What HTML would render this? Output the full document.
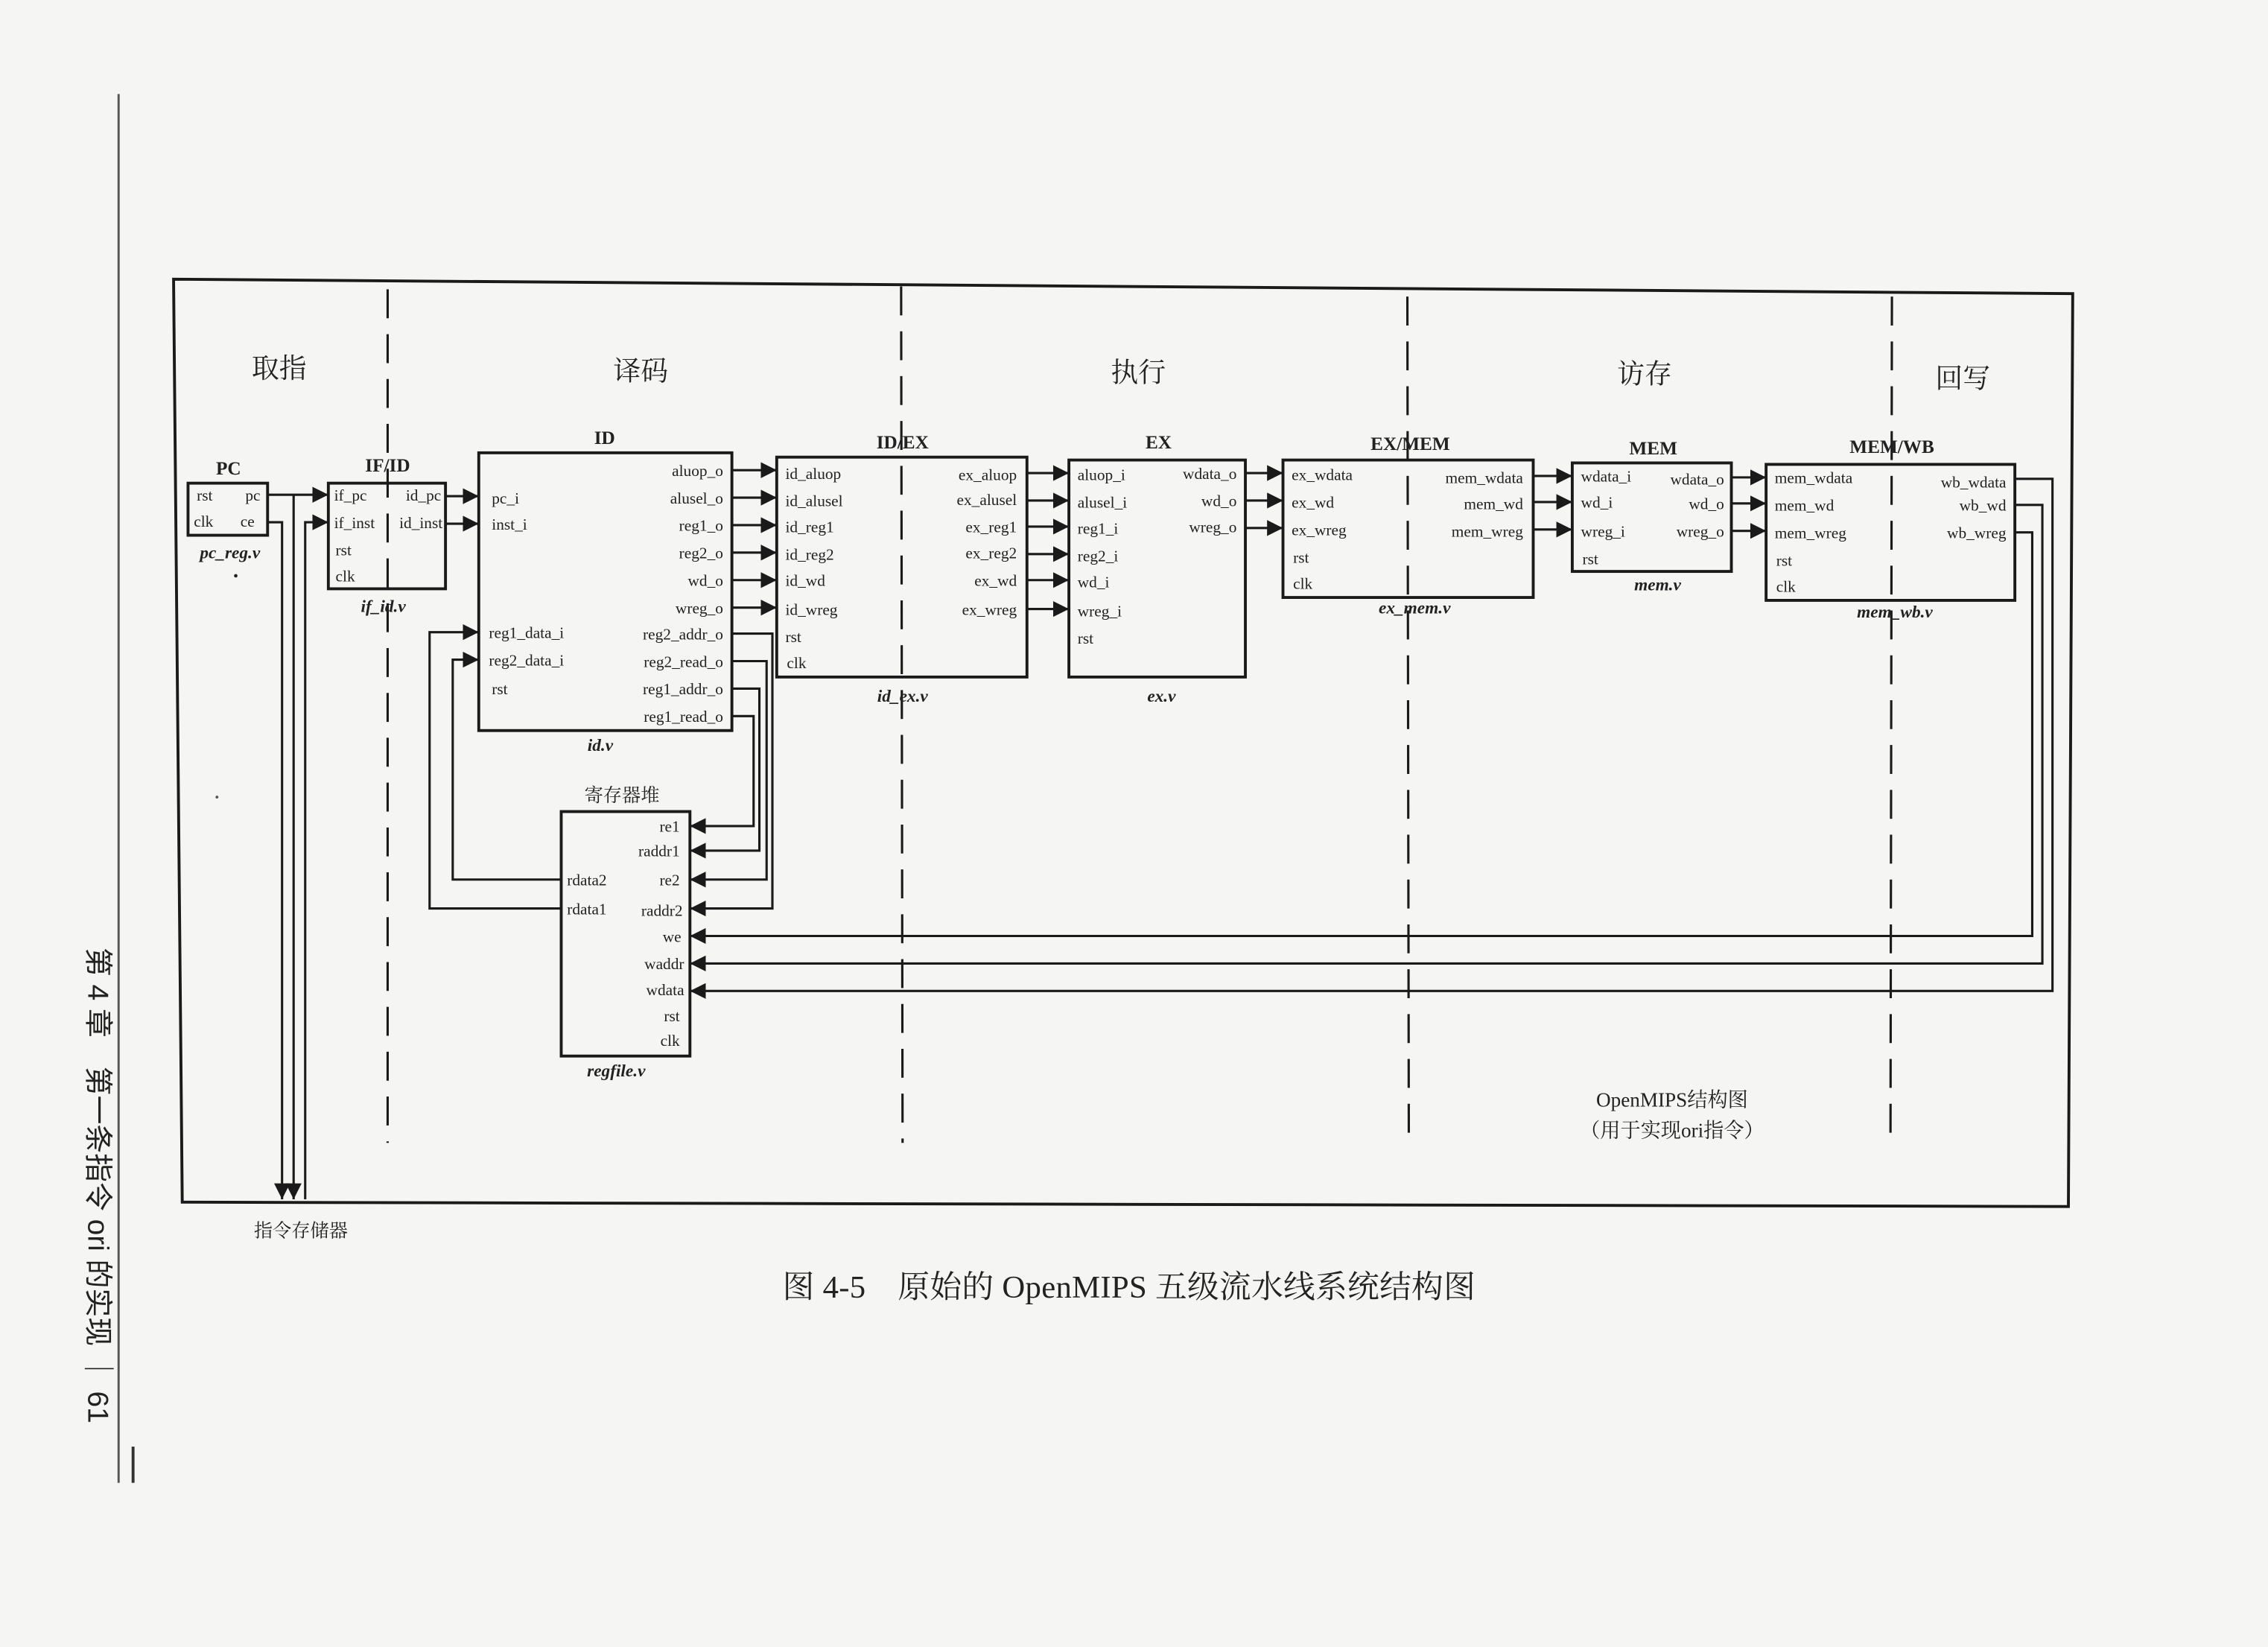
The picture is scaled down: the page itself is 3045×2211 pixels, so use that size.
<!DOCTYPE html>
<html><head><meta charset="utf-8"><style>
html,body{margin:0;padding:0;background:#f5f5f3;}
svg{display:block;}
text{font-family:"Liberation Serif","Noto Serif CJK SC",serif;fill:#222;}
.p{font-size:11px;}
.r{text-anchor:end;}
.t{font-size:13px;font-weight:bold;text-anchor:middle;}
.f{font-size:12px;font-weight:bold;font-style:italic;text-anchor:middle;}
.s{font-size:19px;text-anchor:middle;}
.b{fill:none;stroke:#1a1a1a;stroke-width:2;}
.w{fill:none;stroke:#1a1a1a;stroke-width:1.6;}
.d{fill:none;stroke:#1a1a1a;stroke-width:1.6;stroke-dasharray:20 11;}
</style></head><body>
<svg width="3045" height="2211" viewBox="0 0 1568 1138.5" preserveAspectRatio="none" xmlns="http://www.w3.org/2000/svg">
<defs><marker id="a" markerWidth="11" markerHeight="11" refX="11" refY="5.5" orient="auto" markerUnits="userSpaceOnUse"><path d="M0,0L11,5.5L0,11z" fill="#1a1a1a"/></marker></defs>
<rect width="1568" height="1138.5" fill="#f5f5f3"/>
<line x1="82" y1="65" x2="82" y2="1025" stroke="#555" stroke-width="1.5"/>
<line x1="92" y1="1000" x2="92" y2="1025" stroke="#333" stroke-width="2"/>
<text transform="translate(61,655) rotate(90)" style="font-size:20px;font-family:'Liberation Sans','Noto Sans CJK SC',sans-serif;">第 4 章　第一条指令 ori 的实现 ｜ 61</text>
<polygon points="120,193 1433,203 1430,834 126,831" class="b"/>
<line x1="268" y1="200" x2="268" y2="790" class="d"/>
<line x1="623" y1="198" x2="624" y2="790" class="d"/>
<line x1="973" y1="205" x2="974" y2="790" class="d"/>
<line x1="1308" y1="205" x2="1307" y2="790" class="d"/>
<text x="193" y="261" class="s">取指</text>
<text x="443" y="263" class="s">译码</text>
<text x="787" y="264" class="s">执行</text>
<text x="1137" y="265" class="s">访存</text>
<text x="1357" y="268" class="s">回写</text>
<text x="158" y="328" class="t">PC</text>
<rect x="130" y="334" width="55" height="36" class="b"/>
<text x="136" y="346" class="p">rst</text><text x="180" y="346" class="p r">pc</text>
<text x="134" y="364" class="p">clk</text><text x="176" y="364" class="p r">ce</text>
<text x="159" y="386" class="f">pc_reg.v</text>
<circle cx="163" cy="398" r="1.2" fill="#222"/>
<text x="268" y="326" class="t">IF/ID</text>
<rect x="227" y="334" width="81" height="73" class="b"/>
<text x="231" y="346" class="p">if_pc</text><text x="305" y="346" class="p r">id_pc</text>
<text x="231" y="365" class="p">if_inst</text><text x="306" y="365" class="p r">id_inst</text>
<text x="232" y="384" class="p">rst</text>
<text x="232" y="402" class="p">clk</text>
<text x="265" y="423" class="f">if_id.v</text>
<line x1="185" y1="342" x2="227" y2="342" class="w" marker-end="url(#a)"/>
<polyline points="185,361 195,361 195,829" class="w" marker-end="url(#a)"/>
<polyline points="203,342 203,829" class="w" marker-end="url(#a)"/>
<polyline points="211,829 211,361 227,361" class="w" marker-end="url(#a)"/>
<text x="208" y="855" style="font-size:13px;text-anchor:middle;">指令存储器</text>
<text x="418" y="307" class="t">ID</text>
<rect x="331" y="313" width="175" height="192" class="b"/>
<text x="340" y="348" class="p">pc_i</text>
<text x="340" y="366" class="p">inst_i</text>
<text x="338" y="441" class="p">reg1_data_i</text>
<text x="338" y="460" class="p">reg2_data_i</text>
<text x="340" y="480" class="p">rst</text>
<text x="500" y="329" class="p r">aluop_o</text>
<text x="500" y="348" class="p r">alusel_o</text>
<text x="500" y="367" class="p r">reg1_o</text>
<text x="500" y="386" class="p r">reg2_o</text>
<text x="500" y="405" class="p r">wd_o</text>
<text x="500" y="424" class="p r">wreg_o</text>
<text x="500" y="442" class="p r">reg2_addr_o</text>
<text x="500" y="461" class="p r">reg2_read_o</text>
<text x="500" y="480" class="p r">reg1_addr_o</text>
<text x="500" y="499" class="p r">reg1_read_o</text>
<text x="415" y="519" class="f">id.v</text>
<line x1="308" y1="343" x2="331" y2="343" class="w" marker-end="url(#a)"/>
<line x1="308" y1="362" x2="331" y2="362" class="w" marker-end="url(#a)"/>
<line x1="506" y1="325" x2="537" y2="325" class="w" marker-end="url(#a)"/>
<line x1="506" y1="344" x2="537" y2="344" class="w" marker-end="url(#a)"/>
<line x1="506" y1="363" x2="537" y2="363" class="w" marker-end="url(#a)"/>
<line x1="506" y1="382" x2="537" y2="382" class="w" marker-end="url(#a)"/>
<line x1="506" y1="401" x2="537" y2="401" class="w" marker-end="url(#a)"/>
<line x1="506" y1="420" x2="537" y2="420" class="w" marker-end="url(#a)"/>
<text x="624" y="310" class="t">ID/EX</text>
<rect x="537" y="316" width="173" height="152" class="b"/>
<text x="543" y="331" class="p">id_aluop</text>
<text x="543" y="350" class="p">id_alusel</text>
<text x="543" y="368" class="p">id_reg1</text>
<text x="543" y="387" class="p">id_reg2</text>
<text x="543" y="405" class="p">id_wd</text>
<text x="543" y="425" class="p">id_wreg</text>
<text x="543" y="444" class="p">rst</text>
<text x="544" y="462" class="p">clk</text>
<text x="703" y="332" class="p r">ex_aluop</text>
<text x="703" y="349" class="p r">ex_alusel</text>
<text x="703" y="368" class="p r">ex_reg1</text>
<text x="703" y="386" class="p r">ex_reg2</text>
<text x="703" y="405" class="p r">ex_wd</text>
<text x="703" y="425" class="p r">ex_wreg</text>
<text x="624" y="485" class="f">id_ex.v</text>
<line x1="710" y1="327" x2="739" y2="327" class="w" marker-end="url(#a)"/>
<line x1="710" y1="346" x2="739" y2="346" class="w" marker-end="url(#a)"/>
<line x1="710" y1="364" x2="739" y2="364" class="w" marker-end="url(#a)"/>
<line x1="710" y1="383" x2="739" y2="383" class="w" marker-end="url(#a)"/>
<line x1="710" y1="401" x2="739" y2="401" class="w" marker-end="url(#a)"/>
<line x1="710" y1="421" x2="739" y2="421" class="w" marker-end="url(#a)"/>
<text x="801" y="310" class="t">EX</text>
<rect x="739" y="318" width="122" height="150" class="b"/>
<text x="745" y="332" class="p">aluop_i</text>
<text x="745" y="351" class="p">alusel_i</text>
<text x="745" y="369" class="p">reg1_i</text>
<text x="745" y="388" class="p">reg2_i</text>
<text x="745" y="406" class="p">wd_i</text>
<text x="745" y="426" class="p">wreg_i</text>
<text x="745" y="445" class="p">rst</text>
<text x="855" y="331" class="p r">wdata_o</text>
<text x="855" y="350" class="p r">wd_o</text>
<text x="855" y="368" class="p r">wreg_o</text>
<text x="803" y="485" class="f">ex.v</text>
<line x1="861" y1="327" x2="887" y2="327" class="w" marker-end="url(#a)"/>
<line x1="861" y1="346" x2="887" y2="346" class="w" marker-end="url(#a)"/>
<line x1="861" y1="365" x2="887" y2="365" class="w" marker-end="url(#a)"/>
<text x="975" y="311" class="t">EX/MEM</text>
<rect x="887" y="318" width="173" height="95" class="b"/>
<text x="893" y="332" class="p">ex_wdata</text>
<text x="893" y="351" class="p">ex_wd</text>
<text x="893" y="370" class="p">ex_wreg</text>
<text x="894" y="389" class="p">rst</text>
<text x="894" y="407" class="p">clk</text>
<text x="1053" y="334" class="p r">mem_wdata</text>
<text x="1053" y="352" class="p r">mem_wd</text>
<text x="1053" y="371" class="p r">mem_wreg</text>
<text x="978" y="424" class="f">ex_mem.v</text>
<line x1="1060" y1="329" x2="1087" y2="329" class="w" marker-end="url(#a)"/>
<line x1="1060" y1="347" x2="1087" y2="347" class="w" marker-end="url(#a)"/>
<line x1="1060" y1="366" x2="1087" y2="366" class="w" marker-end="url(#a)"/>
<text x="1143" y="314" class="t">MEM</text>
<rect x="1087" y="320" width="110" height="75" class="b"/>
<text x="1093" y="333" class="p">wdata_i</text>
<text x="1093" y="351" class="p">wd_i</text>
<text x="1093" y="371" class="p">wreg_i</text>
<text x="1094" y="390" class="p">rst</text>
<text x="1192" y="335" class="p r">wdata_o</text>
<text x="1192" y="352" class="p r">wd_o</text>
<text x="1192" y="371" class="p r">wreg_o</text>
<text x="1146" y="408" class="f">mem.v</text>
<line x1="1197" y1="330" x2="1221" y2="330" class="w" marker-end="url(#a)"/>
<line x1="1197" y1="348" x2="1221" y2="348" class="w" marker-end="url(#a)"/>
<line x1="1197" y1="367" x2="1221" y2="367" class="w" marker-end="url(#a)"/>
<text x="1308" y="313" class="t">MEM/WB</text>
<rect x="1221" y="321" width="172" height="94" class="b"/>
<text x="1227" y="334" class="p">mem_wdata</text>
<text x="1227" y="353" class="p">mem_wd</text>
<text x="1227" y="372" class="p">mem_wreg</text>
<text x="1228" y="391" class="p">rst</text>
<text x="1228" y="409" class="p">clk</text>
<text x="1387" y="337" class="p r">wb_wdata</text>
<text x="1387" y="353" class="p r">wb_wd</text>
<text x="1387" y="372" class="p r">wb_wreg</text>
<text x="1310" y="427" class="f">mem_wb.v</text>
<polyline points="1393,331 1419,331 1419,685 477,685" class="w" marker-end="url(#a)"/>
<polyline points="1393,349 1412,349 1412,666 477,666" class="w" marker-end="url(#a)"/>
<polyline points="1393,368 1405,368 1405,647 477,647" class="w" marker-end="url(#a)"/>
<text x="430" y="554" style="font-size:13px;text-anchor:middle;">寄存器堆</text>
<rect x="388" y="561" width="89" height="169" class="b"/>
<text x="470" y="575" class="p r">re1</text>
<text x="470" y="592" class="p r">raddr1</text>
<text x="470" y="612" class="p r">re2</text>
<text x="472" y="633" class="p r">raddr2</text>
<text x="471" y="651" class="p r">we</text>
<text x="473" y="670" class="p r">waddr</text>
<text x="473" y="688" class="p r">wdata</text>
<text x="470" y="706" class="p r">rst</text>
<text x="470" y="723" class="p r">clk</text>
<text x="392" y="612" class="p">rdata2</text>
<text x="392" y="632" class="p">rdata1</text>
<text x="426" y="744" class="f">regfile.v</text>
<polyline points="506,495 521,495 521,571 477,571" class="w" marker-end="url(#a)"/>
<polyline points="506,476 525,476 525,588 477,588" class="w" marker-end="url(#a)"/>
<polyline points="506,457 530,457 530,608 477,608" class="w" marker-end="url(#a)"/>
<polyline points="506,438 534,438 534,628 477,628" class="w" marker-end="url(#a)"/>
<polyline points="388,608 313,608 313,456 331,456" class="w" marker-end="url(#a)"/>
<polyline points="388,628 297,628 297,437 331,437" class="w" marker-end="url(#a)"/>
<text x="1156" y="765" style="font-size:14px;text-anchor:middle;">OpenMIPS结构图</text>
<text x="1156" y="786" style="font-size:14px;text-anchor:middle;">（用于实现ori指令）</text>
<text x="541" y="897" textLength="479" style="font-size:22px;">图 4-5　原始的 OpenMIPS 五级流水线系统结构图</text>
<circle cx="150" cy="551" r="1" fill="#555"/>
</svg>
</body></html>
